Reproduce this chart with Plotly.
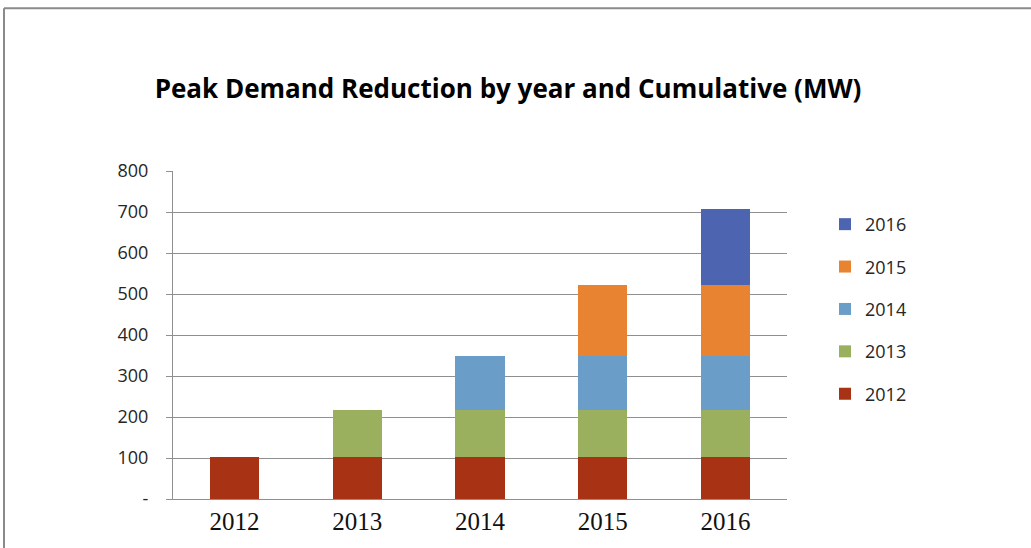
import plotly.graph_objects as go

categories = ["2012", "2013", "2014", "2015", "2016"]
series_names = ["2012", "2013", "2014", "2015", "2016"]
# incremental MW contributed by each program year, per reporting year
s2012 = [103, 103, 103, 103, 103]
s2013 = [0, 113, 113, 113, 113]
s2014 = [0, 0, 134, 134, 134]
s2015 = [0, 0, 0, 172, 172]
s2016 = [0, 0, 0, 0, 185]
series_values = [s2012, s2013, s2014, s2015, s2016]
colors = ["#A83214", "#9BB05F", "#6B9DC9", "#E88431", "#4D65B1"]

y_tickvals = [0, 100, 200, 300, 400, 500, 600, 700, 800]
y_ticktext = ["-", "100", "200", "300", "400", "500", "600", "700", "800"]

fig = go.Figure()
n = len(series_names)
for i, (name, vals, col) in enumerate(zip(series_names, series_values, colors)):
    fig.add_trace(go.Bar(
        x=categories, y=[v if v else None for v in vals], name=name,
        marker=dict(color=col, line=dict(width=0)),
        legendgroup=name, legendrank=n - i,
    ))

L, R, T, B = 173, 244, 171, 48.5
W, H = 1031, 548
pw = W - L - R
ph = H - T - B

def px2x(px):
    return (px - L) / pw

def py2y(py):
    return (H - B - py) / ph

fig.update_layout(
    width=W, height=H,
    barmode="stack", bargap=0.6,
    plot_bgcolor="white", paper_bgcolor="white",
    margin=dict(l=L, r=R, t=T, b=B),
    title=dict(
        text="<b>Peak Demand Reduction by year and Cumulative (MW)</b>",
        x=(148 + 868) / 2 / W, xanchor="center",
        y=1 - 89 / H, yanchor="middle",
        font=dict(family="Open Sans", size=26, color="#000000"),
    ),
    legend=dict(
        x=px2x(825), xanchor="left",
        y=py2y(206), yanchor="top",
        traceorder="grouped", tracegroupgap=16,
        font=dict(family="Open Sans", size=18, color="#262626"),
        itemwidth=30,
    ),
    showlegend=True,
    font=dict(family="Open Sans", color="#262626"),
    shapes=[
        dict(type="line", xref="paper", yref="paper",
             x0=px2x(4), x1=px2x(4), y0=py2y(8), y1=py2y(560),
             line=dict(color="#8a8a8a", width=2)),
        dict(type="line", xref="paper", yref="paper",
             x0=px2x(4), x1=px2x(1040), y0=py2y(8), y1=py2y(8),
             line=dict(color="#8a8a8a", width=2)),
    ],
)

fig.update_yaxes(
    range=[0, 800], tickvals=y_tickvals, ticktext=y_ticktext,
    showgrid=True, gridcolor="#8f8f8f", gridwidth=1,
    showline=True, linecolor="#8f8f8f", linewidth=1,
    ticks="outside", ticklen=6, tickcolor="#8f8f8f",
    tickfont=dict(family="Open Sans", size=18, color="#262626"),
    ticklabelstandoff=14,
    zeroline=False, fixedrange=True,
)
fig.update_xaxes(
    showline=True, linecolor="#8f8f8f", linewidth=1,
    ticks="", tickfont=dict(family="Liberation Serif", size=25, color="#111111"),
    ticklabelstandoff=0, fixedrange=True,
)

fig.write_html("out.html", post_script="document.body.style.margin='0px';",
               config={"displayModeBar": False})
